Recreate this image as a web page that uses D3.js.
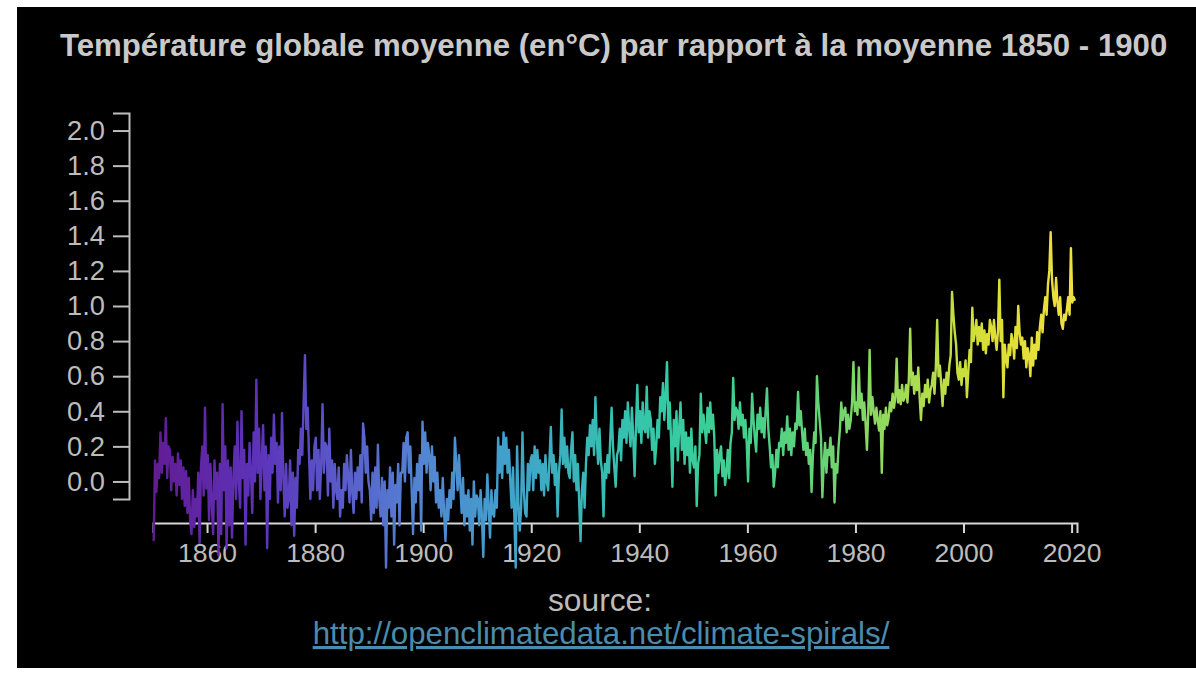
<!DOCTYPE html>
<html>
<head>
<meta charset="utf-8">
<script src="https://cdn.jsdelivr.net/npm/d3@7"></script>
<style>
  html, body { margin: 0; padding: 0; background: #ffffff; }
  svg { display: block; }
  text { font-family: "Liberation Sans", Arial, Helvetica, sans-serif; }
</style>
</head>
<body>
<svg id="chart" width="1196" height="673"></svg>
<script>
// Global mean temperature anomaly (°C, relative to 1850-1900), four samples per year.
const startYear = 1850;
const samplesPerYear = 4;

const anomalies1850s = [
  -0.34, 0.12, -0.06, 0.10,   0.02, 0.28, 0.05, 0.22,   0.10, 0.36, 0.02, 0.20,   0.18, -0.05, 0.14, 0.00,
   0.10, -0.08, 0.16, -0.02,  0.12, -0.10, 0.08, -0.14, 0.06, -0.18, 0.02, -0.22, -0.30, -0.05, -0.26, -0.10,
  -0.20, 0.05, -0.35, 0.08,   0.20, -0.08, 0.42, -0.04
];
const anomalies1860s = [
   0.15, -0.22, 0.10, -0.12,  -0.30, 0.12, -0.10, 0.05,  -0.42, 0.10, -0.30, 0.44,  -0.05, 0.20, -0.38, 0.12,
  -0.25, 0.08, -0.32, 0.02,   0.20, -0.10, 0.34, 0.00,   -0.15, 0.40, 0.02, 0.18,  -0.36, 0.10, -0.08, 0.22,
   0.05, -0.18, 0.28, 0.00,   0.58, 0.05, 0.30, -0.10
];
const anomalies1870s = [
   0.12, 0.32, -0.05, 0.20,  -0.38, 0.15, -0.10, 0.25,   0.05, 0.38, 0.10, 0.22,  -0.12, 0.20, -0.05, 0.39,
   0.02, -0.20, 0.10, -0.15, -0.10, 0.12, -0.25, 0.05,  -0.31, 0.02, -0.15, 0.18,   0.10, 0.30, 0.15, 0.45,
   0.72, 0.30, 0.42, 0.15,   -0.10, 0.12, -0.05, 0.20
];
const anomalies1880s = [
   0.25, -0.05, 0.18, -0.10,  0.10, 0.44, 0.05, 0.22,   0.20, -0.08, 0.30, 0.00,   0.12, -0.15, 0.10, -0.05,
  -0.10, 0.08, -0.20, -0.05, -0.15, 0.10, -0.05, 0.15,  0.02, -0.12, 0.18, -0.06, -0.18, 0.05, -0.10, 0.08,
  -0.05, 0.15, -0.12, 0.33,   0.25, 0.05, 0.20, 0.00
];
const anomalies1890s = [
  -0.05, -0.22, 0.05, -0.18,  0.08, -0.15, 0.21, -0.10, -0.20, 0.02, -0.25, 0.00,  -0.49, -0.05, -0.15, 0.08,
  -0.20, 0.05, -0.36, -0.02, -0.12, 0.10, -0.25, 0.05,   0.05, 0.22, 0.00, 0.25,    0.28, 0.05, 0.20, -0.05,
  -0.30, 0.02, -0.12, 0.10,  -0.05, 0.15, -0.28, 0.34
];
const anomalies1900s = [
   0.10, 0.28, 0.05, 0.22,    0.15, -0.05, 0.20, 0.00,   0.14, -0.12, 0.05, -0.15, -0.05, -0.20, 0.02, -0.18,
  -0.34, -0.10, -0.22, -0.05, -0.15, 0.05, -0.10, 0.25,  0.10, -0.05, 0.15, -0.02, -0.18, 0.02, -0.25, -0.08,
  -0.20, -0.05, -0.28, -0.10, -0.36, 0.00, -0.20, -0.08
];
const anomalies1910s = [
  -0.10, -0.25, -0.05, -0.20, -0.43, -0.10, -0.22, 0.04, -0.15, -0.32, -0.05, -0.18, -0.20, -0.05, -0.15, 0.25,
   0.05, 0.20, 0.02, 0.28,    0.10, 0.25, 0.05, 0.18,    0.00, -0.15, 0.08, -0.20, -0.49, 0.20, -0.12, -0.28,
  -0.15, 0.28, -0.05, -0.18, -0.20, 0.10, -0.05, 0.12
];
const anomalies1920s = [
   0.15, -0.05, 0.20, 0.02,   0.18, 0.05, 0.12, -0.05,   0.10, -0.08, 0.15, 0.00,  -0.05, 0.12, 0.31, 0.05,
   0.15, -0.02, 0.10, -0.20,  0.05, 0.15, 0.41, 0.10,    0.25, 0.08, 0.20, 0.05,    0.02, 0.18, 0.28, 0.00,
   0.15, -0.05, 0.10, -0.12, -0.34, -0.05, 0.05, -0.15
];
const anomalies1930s = [
   0.10, 0.25, 0.15, 0.32,    0.20, 0.35, 0.15, 0.48,    0.25, 0.10, 0.30, 0.12,    0.05, -0.20, 0.10, 0.02,
   0.15, 0.05, 0.25, 0.42,    0.20, 0.08, -0.03, 0.15,   0.18, 0.30, 0.12, 0.35,    0.25, 0.40, 0.22, 0.45,
   0.30, 0.20, 0.42, 0.25,    0.03, 0.30, 0.55, 0.28
];
const anomalies1940s = [
   0.40, 0.22, 0.45, 0.30,    0.28, 0.54, 0.25, 0.40,    0.35, 0.18, 0.30, 0.10,    0.20, 0.35, 0.25, 0.48,
   0.40, 0.56, 0.35, 0.50,    0.68, 0.30, 0.45, 0.24,   -0.03, 0.35, 0.20, 0.40,    0.12, 0.30, 0.45, 0.18,
   0.35, 0.10, 0.28, 0.15,    0.25, 0.05, 0.30, 0.12
];
const anomalies1950s = [
   0.08, 0.20, -0.14, 0.10,   0.15, 0.50, 0.28, 0.38,    0.30, 0.22, 0.42, 0.28,    0.45, 0.30, 0.38, 0.25,
  -0.08, 0.18, 0.05, 0.15,    0.20, 0.03, 0.12, -0.02,   0.05, 0.18, 0.02, 0.22,    0.28, 0.59, 0.35, 0.42,
   0.40, 0.30, 0.45, 0.32,    0.38, 0.25, 0.35, 0.22
];
const anomalies1960s = [
   0.00, 0.30, 0.22, 0.50,    0.35, 0.25, 0.17, 0.38,    0.30, 0.42, 0.28, 0.36,    0.25, 0.40, 0.53, 0.30,
   0.20, 0.08, 0.15, -0.03,   0.05, 0.18, 0.08, 0.22,    0.20, 0.30, 0.15, 0.28,    0.22, 0.37, 0.18, 0.30,
   0.15, 0.28, 0.20, 0.33,    0.30, 0.51, 0.32, 0.40
];
const anomalies1970s = [
   0.28, 0.18, 0.30, 0.15,    0.22, 0.10, 0.18, -0.06,   0.15, 0.28, 0.22, 0.60,    0.45, 0.35, 0.25, -0.09,
   0.10, 0.22, 0.05, 0.18,    0.15, 0.25, 0.08, 0.20,   -0.12, 0.10, 0.05, 0.20,    0.30, 0.45, 0.35, 0.40,
   0.42, 0.28, 0.38, 0.30,    0.35, 0.45, 0.68, 0.40
];
const anomalies1980s = [
   0.45, 0.38, 0.65, 0.42,    0.50, 0.35, 0.45, 0.33,    0.18, 0.40, 0.75, 0.38,    0.48, 0.40, 0.33, 0.42,
   0.35, 0.29, 0.40, 0.05,    0.38, 0.30, 0.42, 0.32,    0.36, 0.45, 0.40, 0.50,    0.42, 0.48, 0.70, 0.45,
   0.52, 0.44, 0.55, 0.46,    0.48, 0.55, 0.45, 0.58
];
const anomalies1990s = [
   0.87, 0.55, 0.62, 0.50,    0.60, 0.52, 0.65, 0.48,    0.35, 0.50, 0.43, 0.55,    0.48, 0.58, 0.45, 0.52,
   0.55, 0.62, 0.50, 0.65,    0.92, 0.60, 0.66, 0.55,    0.43, 0.58, 0.50, 0.62,    0.55, 0.66, 0.72, 1.08,
   0.95, 0.85, 0.78, 0.62,    0.58, 0.68, 0.55, 0.64
];
const anomalies2000s = [
   0.60, 0.69, 0.48, 0.62,    0.75, 0.68, 0.99, 0.80,    0.85, 0.92, 0.78, 0.88,    0.80, 0.90, 0.75, 0.86,
   0.73, 0.84, 0.78, 0.92,    0.88, 0.80, 0.92, 0.82,    0.75, 0.86, 1.15, 0.80,    0.92, 0.48, 0.78, 0.70,
   0.65, 0.78, 0.72, 0.84,    0.80, 0.70, 0.88, 0.76
];
const anomalies2010s = [
   1.00, 0.85, 0.78, 0.82,    0.70, 0.80, 0.65, 0.76,    0.72, 0.60, 0.82, 0.66,    0.78, 0.70, 0.85, 0.75,
   0.88, 0.95, 0.85, 0.98,    1.05, 0.95, 1.12, 1.20,    1.42, 1.15, 1.05, 1.00,    1.16, 1.02, 0.95, 1.05,
   0.90, 0.87, 0.95, 0.92,    0.98, 1.05, 0.95, 1.33
];
const anomalies2020 = [1.02, 1.05, 1.03];

const yTickValues = [0.0, 0.2, 0.4, 0.6, 0.8, 1.0, 1.2, 1.4, 1.6, 1.8, 2.0];
const xTickValues = [1860, 1880, 1900, 1920, 1940, 1960, 1980, 2000, 2020];

// Colour ramp along the time axis (purple -> blue -> teal -> green -> yellow).
const rampYears  = [1850, 1870, 1885, 1900, 1915, 1930, 1945, 1960, 1975, 1990, 2005, 2020];
const rampColors = ["#621c94", "#5c34ba", "#5a5ccb", "#5286d2", "#42a0cc", "#38b8b8", "#34cba4",
                    "#44d08c", "#6ad472", "#a6dc54", "#dcdf34", "#eee040"];

const titleText = "Température globale moyenne (en°C) par rapport à la moyenne 1850 - 1900";
const sourceLabel = "source:";
const sourceUrl = "http://openclimatedata.net/climate-spirals/";

const values = [].concat(
  anomalies1850s, anomalies1860s, anomalies1870s, anomalies1880s, anomalies1890s,
  anomalies1900s, anomalies1910s, anomalies1920s, anomalies1930s, anomalies1940s,
  anomalies1950s, anomalies1960s, anomalies1970s, anomalies1980s, anomalies1990s,
  anomalies2000s, anomalies2010s, anomalies2020
);
const series = values.map((v, i) => ({ t: startYear + (i + 0.5) / samplesPerYear, v }));

const W = 1196, H = 673;
const svg = d3.select("#chart");

// scale a text element's font so that it spans the given width
function fitWidth(sel, baseSize, width) {
  sel.attr("font-size", baseSize);
  const w = sel.node().getComputedTextLength();
  if (w > 0) sel.attr("font-size", baseSize * width / w);
  return baseSize * width / w;
}

// dark panel
svg.append("rect").attr("x", 17).attr("y", 7).attr("width", W - 17).attr("height", 661).attr("fill", "#000000");

const x = d3.scaleLinear().domain([1850, 2021]).range([153, 1077]);
const y = d3.scaleLinear().domain([-0.1, 2.1]).range([499, 113]);

// gradient following the x axis
const grad = svg.append("defs").append("linearGradient")
  .attr("id", "timeRamp")
  .attr("gradientUnits", "userSpaceOnUse")
  .attr("x1", x(1850)).attr("x2", x(2021)).attr("y1", 0).attr("y2", 0);
grad.selectAll("stop").data(rampYears).join("stop")
  .attr("offset", d => (x(d) - x(1850)) / (x(2021) - x(1850)))
  .attr("stop-color", (d, i) => rampColors[i]);

// title
const title = svg.append("text")
  .attr("x", 60).attr("y", 56)
  .attr("fill", "#c9c9c9")
  .attr("font-weight", "bold")
  .text(titleText);
fitWidth(title, 24, 1108);

// y axis
const yAxis = svg.append("g")
  .attr("transform", "translate(129,0)")
  .call(d3.axisLeft(y).tickValues(yTickValues).tickFormat(d3.format(".1f")).tickSize(16).tickPadding(8));
yAxis.selectAll("path, line").attr("stroke", "#bdbdbd").attr("stroke-width", 2);
const yLabels = yAxis.selectAll("text").attr("fill", "#bcbcbc");
const ySize = fitWidth(yAxis.select(".tick:last-of-type text"), 23, 38);
yLabels.attr("font-size", ySize);

// x axis
const xAxis = svg.append("g")
  .attr("transform", "translate(0,523)")
  .call(d3.axisBottom(x).tickValues(xTickValues).tickFormat(d3.format("d")).tickSize(10).tickPadding(10));
xAxis.selectAll("path, line").attr("stroke", "#d6d6d6").attr("stroke-width", 2);
const xLabels = xAxis.selectAll("text").attr("fill", "#bcbcbc");
const xSize = fitWidth(xAxis.select(".tick text"), 27, 59);
xLabels.attr("font-size", xSize);

// temperature line
svg.append("path")
  .datum(series)
  .attr("fill", "none")
  .attr("stroke", "url(#timeRamp)")
  .attr("stroke-width", 2.4)
  .attr("stroke-linejoin", "round")
  .attr("d", d3.line().x(d => x(d.t)).y(d => y(d.v)));

// source
const src = svg.append("text")
  .attr("x", 600).attr("y", 611)
  .attr("text-anchor", "middle")
  .attr("fill", "#bcbcbc")
  .text(sourceLabel);
fitWidth(src, 30, 104);
const url = svg.append("text")
  .attr("x", 601).attr("y", 644)
  .attr("text-anchor", "middle")
  .attr("fill", "#4a8cad")
  .attr("text-decoration", "underline")
  .text(sourceUrl);
fitWidth(url, 30, 577);
</script>
</body>
</html>
